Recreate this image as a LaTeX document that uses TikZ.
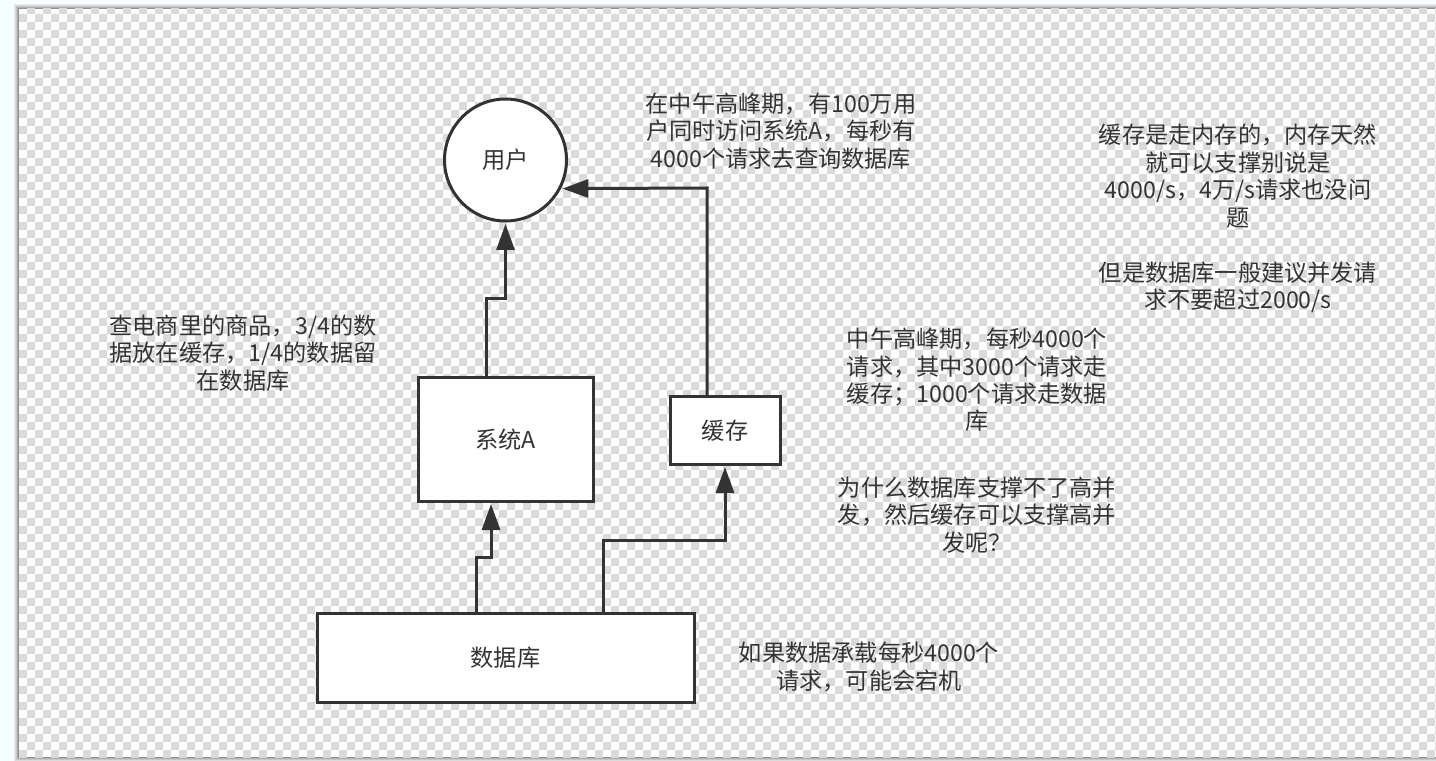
\documentclass[tikz,border=0pt]{standalone}
\usepackage{fontspec}
\setmainfont{Noto Sans CJK SC}
\usetikzlibrary{arrows.meta}
\definecolor{ink}{HTML}{333333}
\definecolor{pagebg}{HTML}{F5FFFF}
\definecolor{cellgray}{HTML}{DADADA}
\tikzset{
	box/.style={draw=ink, fill=white, line width=0.06cm, outer sep=0pt, inner sep=0pt, text=ink, font=\fontsize{13.2}{15.6}\selectfont},
	note/.style={align=center, text=ink, inner sep=0pt, font=\fontsize{13.2}{15.6}\selectfont},
	link/.style={draw=ink, line width=0.06cm, -{Triangle[length=0.52cm,width=0.36cm]}, shorten >=0.06cm},
	cellrow/.style={cellgray, line width=0.16cm, dash pattern=on 0.16cm off 0.16cm}
}
\begin{document}
\begin{tikzpicture}
		\useasboundingbox (0, 0) rectangle (28.72, -15.22);
		\fill[pagebg] (0, 0) rectangle (28.72, -15.22);
		% shadow
		\foreach \s/\c in {0.1/8, 0.08/14, 0.06/22, 0.04/32, 0.02/44}
			\fill[black!\c] (0.38-\s, -0.18+\s) rectangle (28.72, -15.14-\s);
		% checker
		\begin{scope}
			\clip (0.38, -0.18) rectangle (28.72, -15.14);
			\fill[white] (0.38, -0.18) rectangle (28.72, -15.14);
			\foreach \y in {-0.2, -0.52, ..., -15.2}
				\draw[cellrow] (0.54, \y) -- (28.72, \y);
			\foreach \y in {-0.36, -0.68, ..., -15.2}
				\draw[cellrow] (0.38, \y) -- (28.72, \y);
		\end{scope}

		\coordinate (P) at (10.11, -3.2);
		\coordinate (Q) at (10.11, -8.79);
		\coordinate (R) at (14.5, -8.61);
		\coordinate (S) at (10.11, -13.15);

		\node[box, circle, minimum size=2.44cm] (user) at (P) {用户};
		\node[box, minimum width=3.5cm, minimum height=2.46cm] (sysA) at (Q) {系统A};
		\node[box, minimum width=2.2cm, minimum height=1.34cm] (cache) at (R) {缓存};
		\node[box, minimum width=7.54cm, minimum height=1.78cm] (db) at (S) {数据库};

		% 折れ線
		\coordinate (T) at (9.82, -11.14);
		\coordinate (U) at (14.5, -10.8);
		\coordinate (V) at (10.11, -5.98);
		\coordinate (W) at (14.14, -3.76);
		\draw[link] ([xshift=-0.59cm]db.north) |- (T) -- ([xshift=-0.29cm]sysA.south);
		\draw[link] ([xshift=1.95cm]db.north) |- (U) -- (cache.south);
		\draw[link] ([xshift=-0.39cm]sysA.north) |- (V) -- (user.south);
		\draw[link] ([xshift=-0.36cm]cache.north) -- (W) -- (user.-28);

		\node[note] (peakNote) at (15.62, -2.62) {在中午高峰期，有100万用\\户同时访问系统A，每秒有\\4000个请求去查询数据库};
		\node[note] (memNote) at (24.76, -3.52) {缓存是走内存的，内存天然\\就可以支撑别说是\\4000/s，4万/s请求也没问\\题};
		\node[note] (limitNote) at (24.76, -5.74) {但是数据库一般建议并发请\\求不要超过2000/s};
		\node[note] (itemNote) at (4.86, -7.06) {查电商里的商品，3/4的数\\据放在缓存，1/4的数据留\\在数据库};
		\node[note] (splitNote) at (19.54, -7.6) {中午高峰期，每秒4000个\\请求，其中3000个请求走\\缓存；1000个请求走数据\\库};
		\node[note] (whyNote) at (19.54, -10.3) {为什么数据库支撑不了高并\\发，然后缓存可以支撑高并\\发呢？};
		\node[note] (downNote) at (17.38, -13.34) {如果数据承载每秒4000个\\请求，可能会宕机};
	\end{tikzpicture}
\end{document}
